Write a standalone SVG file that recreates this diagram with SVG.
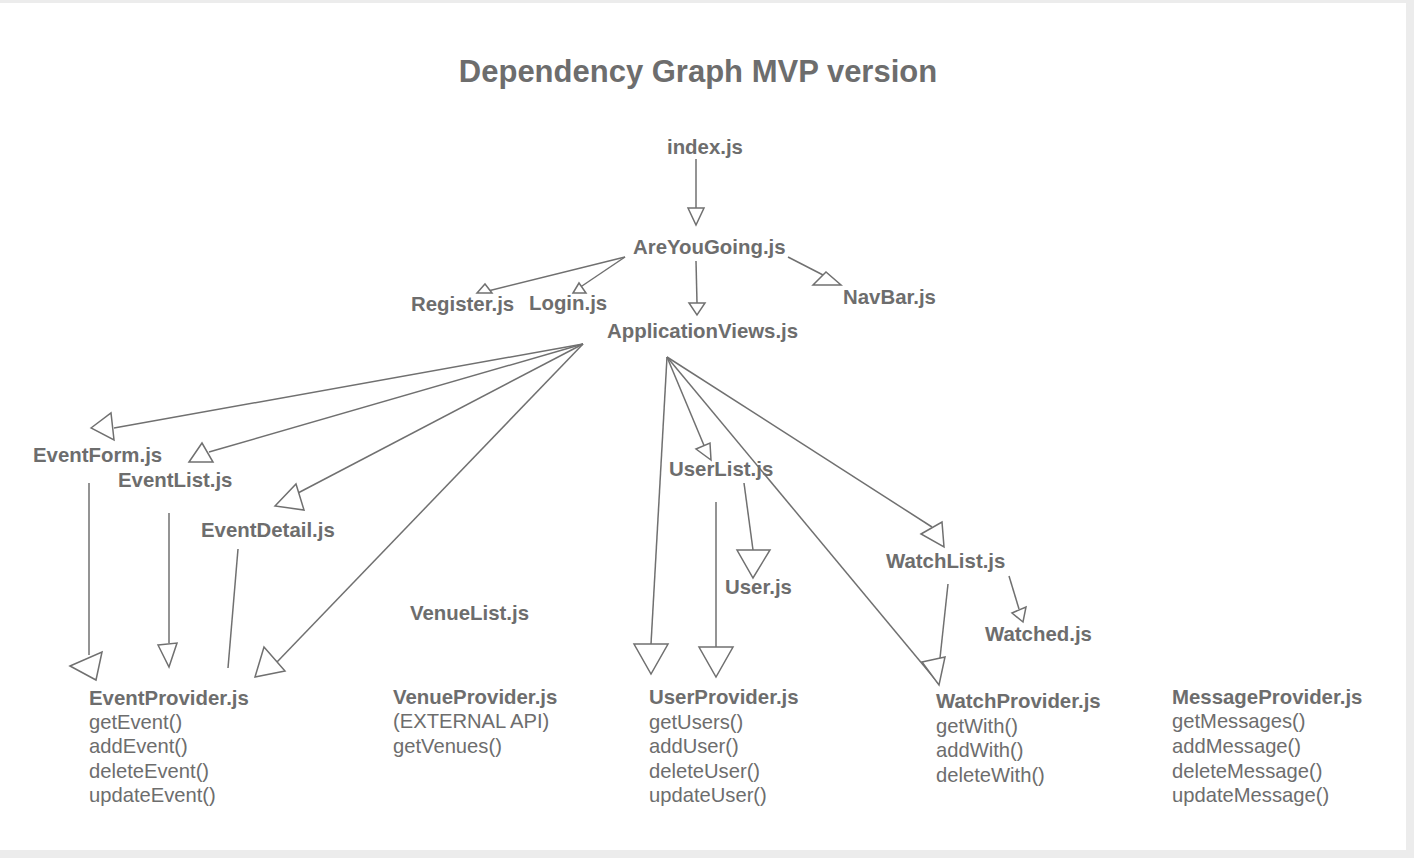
<svg xmlns="http://www.w3.org/2000/svg" width="1414" height="858" viewBox="0 0 1414 858">
<style>
.n{font-family:"Liberation Sans",Arial,sans-serif;font-size:20.4px;font-weight:bold;fill:#6d6d6d}
.m{font-family:"Liberation Sans",Arial,sans-serif;font-size:20.2px;fill:#6d6d6d}
.t{font-family:"Liberation Sans",Arial,sans-serif;font-size:31px;font-weight:bold;fill:#6d6d6d}
.c line,.c polyline{stroke:#707070;stroke-width:1.5;fill:none}
.c polygon{stroke:#707070;stroke-width:1.5;fill:#ffffff;stroke-linejoin:miter}
</style>
<rect x="0" y="0" width="1414" height="858" fill="#ececec"/>
<rect x="0" y="3" width="1406" height="847" fill="#ffffff"/>
<text class="t" x="698" y="82" text-anchor="middle">Dependency Graph MVP version</text>

<g id="connectors" class="c">
  <line x1="696" y1="159" x2="696" y2="208"/>
  <polygon points="688,208 704,208 696,225"/>
  <line x1="625" y1="257" x2="484" y2="292"/>
  <polygon points="477,293 485,284 492,293"/>
  <line x1="625" y1="257" x2="579" y2="288"/>
  <polygon points="573,293 579,283 586,293"/>
  <line x1="696" y1="261" x2="697" y2="303"/>
  <polygon points="689,303 705,303 697,315"/>
  <line x1="788" y1="257" x2="825" y2="276"/>
  <polygon points="813,285 841,285 826,272"/>

  <line x1="583" y1="344" x2="114" y2="428"/>
  <polygon points="91,428 111,413 114,440"/>
  <line x1="583" y1="344" x2="209" y2="452"/>
  <polygon points="189,462 202,443 213,462"/>
  <line x1="583" y1="344" x2="298" y2="493"/>
  <polygon points="275,506 296,484 304,510"/>
  <line x1="583" y1="344" x2="277" y2="662"/>
  <polygon points="255,677 264,647 285,671"/>
  <line x1="89" y1="483" x2="89" y2="655"/>
  <polygon points="70,666 102,652 96,680"/>
  <line x1="169" y1="513" x2="169" y2="643"/>
  <polygon points="158,645 177,643 169,667"/>
  <line x1="238" y1="549" x2="228" y2="668"/>

  <line x1="667" y1="357" x2="651" y2="644"/>
  <polygon points="634,644 668,644 651,674"/>
  <line x1="667" y1="357" x2="708" y2="455"/>
  <polygon points="696,449 710,443 711,460"/>
  <line x1="667" y1="357" x2="939" y2="684"/>
  <line x1="667" y1="357" x2="932" y2="527"/>
  <polygon points="921,534 942,522 944,547"/>
  <line x1="744" y1="483" x2="753" y2="550"/>
  <polygon points="737,550 770,550 753,578"/>
  <line x1="716" y1="502" x2="716" y2="647"/>
  <polygon points="699,647 733,647 716,677"/>
  <line x1="948" y1="584" x2="940" y2="658"/>
  <polygon points="922,662 945,657 939,685"/>
  <line x1="1009" y1="576" x2="1019" y2="609"/>
  <polygon points="1012,613 1026,607 1023,622"/>
</g>

<g id="index"><text class="n" x="667" y="154">index.js</text></g>
<g id="areyougoing"><text class="n" x="633" y="254">AreYouGoing.js</text></g>
<g id="register"><text class="n" x="411" y="311">Register.js</text></g>
<g id="login"><text class="n" x="529" y="310">Login.js</text></g>
<g id="navbar"><text class="n" x="843" y="304">NavBar.js</text></g>
<g id="applicationviews"><text class="n" x="607" y="338">ApplicationViews.js</text></g>
<g id="eventform"><text class="n" x="33" y="462">EventForm.js</text></g>
<g id="eventlist"><text class="n" x="118" y="487">EventList.js</text></g>
<g id="eventdetail"><text class="n" x="201" y="537">EventDetail.js</text></g>
<g id="venuelist"><text class="n" x="410" y="620">VenueList.js</text></g>
<g id="userlist"><text class="n" x="669" y="476">UserList.js</text></g>
<g id="user"><text class="n" x="725" y="594">User.js</text></g>
<g id="watchlist"><text class="n" x="886" y="568">WatchList.js</text></g>
<g id="watched"><text class="n" x="985" y="641">Watched.js</text></g>

<g id="eventprovider">
  <text class="n" x="89" y="705">EventProvider.js</text>
  <text class="m" x="89" y="729">getEvent()</text>
  <text class="m" x="89" y="753">addEvent()</text>
  <text class="m" x="89" y="778">deleteEvent()</text>
  <text class="m" x="89" y="802">updateEvent()</text>
</g>
<g id="venueprovider">
  <text class="n" x="393" y="704">VenueProvider.js</text>
  <text class="m" x="393" y="728">(EXTERNAL API)</text>
  <text class="m" x="393" y="753">getVenues()</text>
</g>
<g id="userprovider">
  <text class="n" x="649" y="704">UserProvider.js</text>
  <text class="m" x="649" y="729">getUsers()</text>
  <text class="m" x="649" y="753">addUser()</text>
  <text class="m" x="649" y="778">deleteUser()</text>
  <text class="m" x="649" y="802">updateUser()</text>
</g>
<g id="watchprovider">
  <text class="n" x="936" y="708">WatchProvider.js</text>
  <text class="m" x="936" y="733">getWith()</text>
  <text class="m" x="936" y="757">addWith()</text>
  <text class="m" x="936" y="782">deleteWith()</text>
</g>
<g id="messageprovider">
  <text class="n" x="1172" y="704">MessageProvider.js</text>
  <text class="m" x="1172" y="728">getMessages()</text>
  <text class="m" x="1172" y="753">addMessage()</text>
  <text class="m" x="1172" y="778">deleteMessage()</text>
  <text class="m" x="1172" y="802">updateMessage()</text>
</g>
</svg>
